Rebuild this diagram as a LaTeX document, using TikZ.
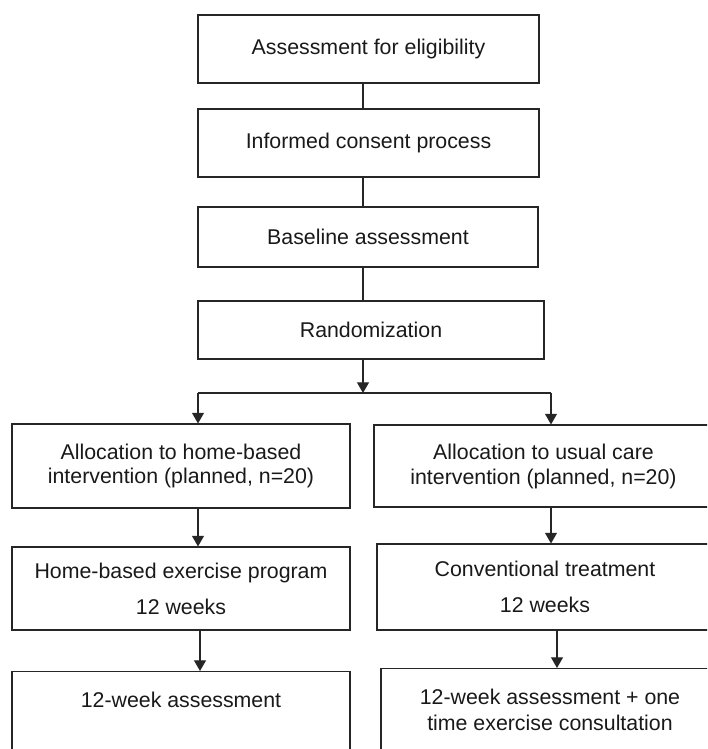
\documentclass[tikz,border=0pt]{standalone}
\usepackage{fontspec}
\setmainfont{Liberation Sans}
\usetikzlibrary{arrows.meta}
\begin{document}
\begin{tikzpicture}[x=0.75pt,y=-0.75pt,
  box/.style={draw=black!85, line width=0.8pt, inner sep=0pt, align=center,
    font=\fontsize{16}{19}\selectfont, text=black!90},
  txt/.style={inner sep=0pt, align=center, text=black!90},
  ln/.style={draw=black!85, line width=0.8pt},
  arr/.style={draw=black!85, line width=0.8pt, -{Triangle[width=9pt,length=8pt]}}]
\useasboundingbox (0,0) rectangle (707,749);
\clip (0,0) rectangle (707,749);
% top column
\node[box, minimum width=255.75pt, minimum height=51pt] (B1) at (368.5,49) {Assessment for eligibility};
\node[box, minimum width=255.75pt, minimum height=51pt] (B2) at (368.5,143) {Informed consent process};
\node[box, minimum width=255pt, minimum height=45pt] (B3) at (368,237) {Baseline assessment};
\node[box, minimum width=259.5pt, minimum height=43.5pt] (B4) at (371,330) {Randomization};
% left column
\node[box, minimum width=253.5pt, minimum height=63pt, font=\fontsize{16}{18}\selectfont] (L1) at (181,466)
  {Allocation to home-based\\intervention (planned, n=20)};
\node[box, minimum width=253.5pt, minimum height=62.25pt, font=\fontsize{16}{27}\selectfont] (L2) at (181,588.5)
  {Home-based exercise program\\12 weeks};
\node[box, anchor=north, minimum width=253.5pt, minimum height=97pt, text height=27pt, text depth=70pt] (L3) at (181,671)
  {12-week assessment};
% right column
\node[box, minimum width=254.25pt, minimum height=61.5pt, font=\fontsize{16}{18.75}\selectfont] (R1) at (543.5,466)
  {Allocation to usual care\\intervention (planned, n=20)};
\node[box, minimum width=252pt, minimum height=64.5pt, font=\fontsize{16}{27.5}\selectfont] (R2) at (545,587)
  {Conventional treatment\\12 weeks};
\node[box, anchor=north, minimum width=253.5pt, minimum height=100pt] (R3) at (550,668) {};
\node[txt, font=\fontsize{16}{19.5}\selectfont] (R3t) at (550,710)
  {12-week assessment + one\\time exercise consultation};
% connectors
\coordinate (c) at (363,0);
\coordinate (cl) at (198,0);
\coordinate (cr) at (551,0);
\coordinate (cl2) at (200,0);
\coordinate (cr2) at (557,0);
\coordinate (split) at (363,393);
\coordinate (sl) at (198,393);
\coordinate (sr) at (551,393);
\draw[ln] (B1.south -| c) -- (B2.north -| c);
\draw[ln] (B2.south -| c) -- (B3.north -| c);
\draw[ln] (B3.south -| c) -- (B4.north -| c);
\draw[arr] (B4.south -| c) -- (split);
\draw[ln] (sl) -- (sr);
\draw[arr] (sl) -- (sl |- L1.north);
\draw[arr] (sr) -- (sr |- R1.north);
\draw[arr] (L1.south -| cl) -- (L2.north -| cl);
\draw[arr] (R1.south -| cr) -- (R2.north -| cr);
\draw[arr] (L2.south -| cl2) -- (L3.north -| cl2);
\draw[arr] (R2.south -| cr2) -- (R3.north -| cr2);
\end{tikzpicture}
\end{document}
